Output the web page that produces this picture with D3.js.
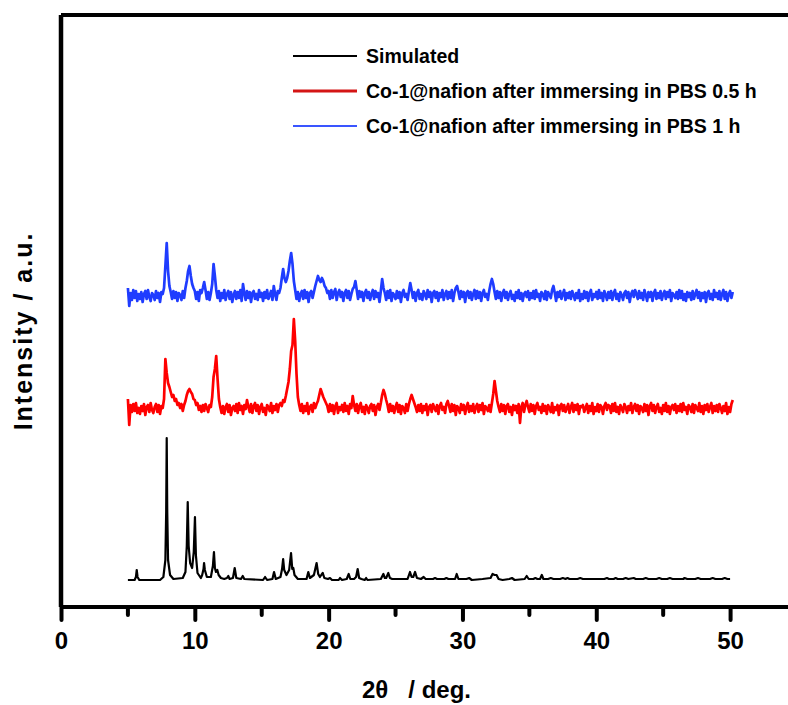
<!DOCTYPE html>
<html>
<head>
<meta charset="utf-8">
<script src="https://cdn.jsdelivr.net/npm/d3@7"></script>
<style>
  body { margin: 0; background: #fff; }
  svg { display: block; }
  text { font-family: "Liberation Sans", Arial, sans-serif; font-weight: bold; fill: #000; }
</style>
</head>
<body>
<svg id="chart" width="788" height="705"></svg>
<script>
// x axis ticks
let majorTicks = [0, 10, 20, 30, 40, 50];
let minorTicks = [5, 15, 25, 35, 45, 55];

// legend entries
let seriesNames = ['Simulated', 'Co-1@nafion after immersing in PBS 0.5 h', 'Co-1@nafion after immersing in PBS 1 h'];
let seriesColors = ['#000000', '#ff0000', '#1f3cff'];

// vertical offsets of the stacked patterns (a.u.)
let offsets = [0, 171, 284];

// simulated pattern, [2theta, intensity]
let simulated = [[5.0,0],[5.5,0],[5.6,3],[5.66,10],[5.72,3],[5.85,0],
  [7.4,0],[7.65,3],[7.8,20],[7.86,68],[7.9,142],[7.94,68],[8.0,20],[8.15,5],[8.4,1],
  [9.1,2],[9.3,8],[9.4,34],[9.47,78],[9.54,34],[9.65,17],[9.8,12],[9.92,28],[10.01,63],[10.08,25],[10.2,7],[10.45,2],
  [10.55,5],[10.65,11],[10.69,17],[10.75,10],[10.9,3],
  [11.2,3],[11.35,14],[11.43,28],[11.5,12],[11.58,8],[11.68,10],[11.78,5],[11.95,2],[12.2,1],
  [12.4,2],[12.5,4],[12.6,1],[12.85,2],[12.98,12],[13.1,2],[13.45,1],[13.58,4],[13.7,1],
  [15.1,0],[15.25,3],[15.4,0],[15.8,1],[15.92,8],[16.05,1],[16.4,3],[16.52,11],[16.6,21],[16.68,10],[16.85,5],
  [17.05,10],[17.19,27],[17.28,11],[17.36,12],[17.45,5],[17.7,1],
  [18.35,1],[18.48,8],[18.6,2],[18.9,5],[19.1,17],[19.22,6],[19.35,3],[19.45,5],[19.56,7],[19.68,2],
  [19.95,1],[20.1,2],[20.25,0],[20.75,0],[20.85,2],[21.0,0],
  [21.35,1],[21.5,6],[21.62,1],[21.9,1],[22.05,3],[22.17,11],[22.28,2],[22.45,1],[22.7,0],[22.8,2],[22.9,0],
  [23.9,1],[24.09,6],[24.2,2],[24.3,2],[24.46,7],[24.58,2],[24.75,1],[25.0,1],
  [25.9,1],[26.08,8],[26.2,3],[26.32,3],[26.46,8],[26.6,2],[26.9,1],[27.1,3],[27.25,1],[27.8,1],[27.95,2],[28.1,1],
  [28.65,1],[28.8,2],[28.95,1],[29.45,1],[29.57,6],[29.7,1],[30.3,1],[30.5,2],[30.7,0],[31.5,1],
  [32.1,2],[32.25,6],[32.4,5],[32.55,5],[32.7,1],[33.0,0],[33.5,1],[33.7,2],[33.9,0],[34.65,1],[34.8,4],[34.95,1],
  [35.3,1],[35.45,2],[35.6,1],[35.8,1],[35.93,5],[36.05,1],[36.4,1],[36.6,2],[36.8,1],[37.3,1],[37.5,2],[37.7,1],
  [37.85,2],[38.0,1],[38.6,1],[38.8,2],[39.0,1],[39.6,1],[39.8,1],[40.0,1],[40.6,1],[40.8,2],[40.95,1],
  [41.3,1],[41.45,2],[41.6,1],[42.0,1],[42.2,2],[42.4,1],[42.8,2],[42.95,1],[43.5,1],[43.7,2],[43.9,1],
  [44.5,1],[44.7,2],[44.9,1],[45.3,1],[45.5,2],[45.7,1],[46.5,1],[46.6,2],[46.8,1],[47.4,1],[47.6,2],[47.8,1],
  [48.5,1],[48.7,2],[48.9,1],[49.4,1],[49.6,2],[49.8,1],[50.0,1]];

// measured patterns, one value every 0.1 deg from 5.0 to 50.2
let startAngle = 5.0;
let stepAngle = 0.1;
let pbsHalfHour = [
  10,-16,4,-3,5,-2,6,-4,1,-5,
  3,-2,5,-6,2,4,-3,6,-1,-4,
  2,5,-3,4,-5,3,1,10,50,36,
  26,22,17,12,14,8,10,4,6,1,
  5,-2,4,8,14,18,20,17,15,10,
  9,4,6,-1,3,-3,4,-2,5,1,
  -3,4,2,12,32,40,53,30,10,2,
  -4,3,-5,2,5,-3,4,-6,1,3,
  -2,5,-4,6,-1,3,-5,4,0,9,
  2,-3,5,-4,3,6,-2,4,-5,2,
  5,-3,1,-6,4,2,-2,6,-4,3,
  -1,5,-3,4,6,3,9,7,13,20,
  27,40,58,64,90,68,35,12,4,-2,
  5,-4,3,-2,6,-5,2,4,-3,6,
  1,5,8,14,20,16,12,9,6,3,
  -3,5,-2,4,-5,3,6,-4,2,-1,
  4,-3,6,-2,3,-5,5,1,13,4,
  -2,5,-4,3,6,-3,2,-5,4,1,
  -4,3,5,-2,4,-6,2,5,-1,6,
  14,19,15,9,4,-3,5,-2,3,-4,
  2,6,-3,4,-5,3,1,-4,5,-2,
  5,10,14,10,6,2,-3,4,-2,5,
  -4,3,-1,5,-6,2,4,-3,5,1,
  -2,4,-5,3,6,-1,2,-4,5,8,
  3,-3,5,-2,4,-6,3,1,-4,5,
  -1,4,-5,2,6,-3,3,-2,5,-4,
  2,5,-3,4,-1,6,-5,3,1,-2,
  4,-3,6,15,28,18,8,2,-3,5,
  -2,4,-5,3,5,-3,2,-6,4,-1,
  3,-4,5,-14,2,6,-3,4,8,2,
  -3,5,-2,4,-5,3,6,-1,2,-4,
  5,-2,3,-5,4,1,-3,6,-4,2,
  -1,4,-6,3,5,-2,4,-3,1,5,
  -4,2,6,-3,4,-1,5,-5,3,2,
  4,-3,1,5,-4,3,-2,6,-5,2,
  -2,5,-3,4,2,-5,3,6,-1,4,
  3,-4,5,-2,6,-3,2,-5,4,1,
  -3,5,2,-4,3,-1,6,-4,2,5,
  -2,4,-5,3,1,-3,5,-2,4,-6,
  3,6,-2,4,-4,2,5,-3,1,-5,
  4,-2,6,-3,3,-5,2,4,-1,5,
  -4,3,-2,5,-3,6,-1,2,-5,4,
  2,-3,5,-4,4,1,-2,6,-3,3,
  -5,4,-1,5,-3,2,6,-4,3,-2,
  4,-3,5,1,-4,3,-2,6,-5,2,
  -3,5,9
];
let pbsOneHour = [
  8,-10,3,-4,6,-2,5,-5,2,-3,
  4,-6,2,5,-3,6,-1,-5,3,1,
  -4,5,-2,3,-6,4,2,8,30,53,
  25,10,4,-3,5,-2,4,-5,3,1,
  -4,5,-2,8,15,25,30,20,12,8,
  5,-3,4,-5,6,3,8,14,6,-3,
  4,-4,3,12,32,20,6,-2,5,-5,
  3,-2,6,-4,2,5,-3,4,-6,1,
  5,-3,4,-2,6,-5,12,3,-4,5,
  -2,4,-6,3,5,-3,2,-4,6,-1,
  3,-5,4,-2,6,-3,1,5,-4,10,
  2,-4,5,3,8,18,27,18,14,18,
  25,35,43,32,15,6,-3,4,-5,2,
  5,-3,6,-2,4,-6,3,5,-2,4,
  10,15,20,16,14,18,15,10,8,3,
  5,-3,6,-2,4,7,-4,3,6,-1,
  4,-5,3,6,-2,5,-4,2,7,9,
  15,6,-3,5,-1,4,-5,3,6,-2,
  4,-4,2,6,-3,5,-1,3,-6,5,
  17,8,3,-4,5,-2,6,-5,3,1,
  -3,5,-2,4,-6,3,6,-1,2,-4,
  5,13,6,-2,4,-5,3,6,-3,2,
  -4,5,2,-3,6,-1,4,-6,3,5,
  -2,4,-5,3,-1,6,-4,2,5,-3,
  4,-2,6,-5,3,8,10,4,-3,5,
  -1,4,-6,3,5,-2,4,-4,2,6,
  -3,5,-2,4,-5,3,6,-1,2,-4,
  5,12,17,12,4,-3,5,-2,4,-5,
  3,6,-2,4,-4,2,5,-3,1,-5,
  4,-2,6,-3,3,-5,2,4,-1,5,
  -4,3,-2,5,-3,6,-1,2,-5,4,
  2,-3,5,-4,4,1,-2,6,10,3,
  -5,4,-1,5,-3,2,6,-4,3,-2,
  4,-3,5,1,-4,3,-2,6,-5,2,
  -3,5,-2,4,-5,3,6,-4,2,-1,
  4,-3,6,-2,3,-5,5,1,-4,4,
  -2,5,-4,3,6,-3,2,-5,4,1,
  -4,3,5,-2,4,-6,2,5,-1,6,
  2,-3,5,-2,3,-4,6,1,-5,4,
  -1,4,-5,3,6,-3,3,-2,5,-4,
  2,5,-3,4,-1,6,-5,3,1,-2,
  4,-3,6,-2,5,-4,2,-5,4,-1,
  3,-4,5,-3,2,6,-2,4,-5,3,
  -2,4,-6,3,5,-3,2,-4,6,-1,
  3,-3,5,-4,2,6,-3,4,-5,2,
  5,-2,4
];

let svg = d3.select('#chart');

let x = d3.scaleLinear().domain([0, 55]).range([61, 797]);
let y = d3.scaleLinear().domain([-27, 565]).range([607, 15]);

// turn the even-step arrays into points
function toPoints(values) {
  return values.map((v, i) => [startAngle + i * stepAngle, v]);
}
let allSeries = [simulated, toPoints(pbsHalfHour), toPoints(pbsOneHour)];

let line = d3.line()
  .x(d => x(d[0]))
  .y(d => y(d[1]));

// patterns, top one first
let widths = [2.2, 2.7, 2.7];
[2, 1, 0].forEach(k => {
  svg.append('path')
    .datum(allSeries[k])
    .attr('fill', 'none')
    .attr('stroke', seriesColors[k])
    .attr('stroke-width', widths[k])
    .attr('stroke-linejoin', 'round')
    .attr('transform', `translate(0, ${y(offsets[k]) - y(0)})`)
    .attr('d', line);
});

// frame: left and top
svg.append('line')
  .attr('x1', x(0)).attr('x2', x(0))
  .attr('y1', y.range()[1]).attr('y2', y.range()[0])
  .attr('stroke', '#000').attr('stroke-width', 4.5);
svg.append('line')
  .attr('x1', x(0)).attr('x2', 800)
  .attr('y1', y.range()[1]).attr('y2', y.range()[1])
  .attr('stroke', '#000').attr('stroke-width', 4);

// bottom axis
let axisX = d3.axisBottom(x)
  .tickValues(majorTicks)
  .tickSize(13)
  .tickPadding(12)
  .tickFormat(d => d);
let gx = svg.append('g')
  .attr('transform', `translate(0, ${y.range()[0]})`)
  .call(axisX);
gx.select('.domain').attr('stroke-width', 4).attr('d', `M${x(0)},0H800`);
gx.selectAll('.tick line').attr('stroke-width', 4).attr('stroke-linecap', 'round');
gx.selectAll('.tick text')
  .attr('font-size', 24)
  .attr('font-family', '"Liberation Sans", Arial, sans-serif')
  .attr('font-weight', 'bold')
  .attr('fill', '#000');

gx.selectAll('.minor')
  .data(minorTicks)
  .enter().append('line')
  .attr('class', 'minor')
  .attr('x1', d => x(d)).attr('x2', d => x(d))
  .attr('y1', 0).attr('y2', 8)
  .attr('stroke', '#000')
  .attr('stroke-width', 4)
  .attr('stroke-linecap', 'round');

// axis titles
svg.append('text')
  .attr('x', 362)
  .attr('y', 698)
  .attr('font-size', 24)
  .attr('xml:space', 'preserve')
  .text('2θ   / deg.');

svg.append('text')
  .attr('transform', 'translate(32, 331) rotate(-90)')
  .attr('text-anchor', 'middle')
  .attr('font-size', 25)
  .attr('letter-spacing', 2)
  .text('Intensity / a.u.');

// legend
let legendColors = ['#000000', '#d41515', '#3a55ff'];
let legend = svg.selectAll('.legend')
  .data(seriesNames)
  .enter().append('g')
  .attr('class', 'legend')
  .attr('transform', (d, i) => `translate(293, ${56 + i * 35})`);
legend.append('line')
  .attr('x1', 0).attr('x2', 64)
  .attr('stroke', (d, i) => legendColors[i])
  .attr('stroke-width', (d, i) => [2, 3, 1.8][i]);
legend.append('text')
  .attr('x', 73)
  .attr('y', 7)
  .attr('font-size', 19.5)
  .text(d => d);
</script>
</body>
</html>
